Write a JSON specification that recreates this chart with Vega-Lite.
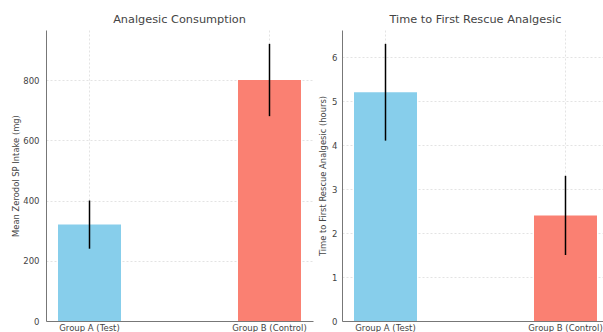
{
  "$schema": "https://vega.github.io/schema/vega-lite/v6.json",
  "background": "white",
  "padding": {"left": 11, "top": 13, "right": 0, "bottom": 0},
  "spacing": 5,
  "config": {
    "view": {"stroke": null},
    "font": "DejaVu Sans",
    "title": {"fontSize": 11.3, "fontWeight": "normal", "color": "#444444", "offset": 5, "font": "DejaVu Sans"},
    "axis": {
      "labelFont": "DejaVu Sans", "titleFont": "DejaVu Sans",
      "labelFontSize": 8.5, "titleFontSize": 8.4, "titleFontWeight": "normal",
      "labelColor": "#444444", "titleColor": "#444444",
      "domainColor": "#777777", "domainWidth": 1,
      "ticks": false, "labelPadding": 5,
      "gridColor": "#d0d0d0", "gridDash": [2, 2], "gridWidth": 0.6
    }
  },
  "datasets": {
    "consumption": [
      {"group": "Group A (Test)", "mean": 320, "lo": 240, "hi": 400},
      {"group": "Group B (Control)", "mean": 800, "lo": 680, "hi": 920}
    ],
    "timing": [
      {"group": "Group A (Test)", "mean": 5.2, "lo": 4.1, "hi": 6.3},
      {"group": "Group B (Control)", "mean": 2.4, "lo": 1.5, "hi": 3.3}
    ]
  },
  "hconcat": [
    {
      "title": "Analgesic Consumption",
      "width": 267, "height": 291,
      "data": {"name": "consumption"},
      "encoding": {
        "x": {"field": "group", "type": "nominal", "sort": null,
              "scale": {"paddingInner": 0.65, "paddingOuter": 0.0667},
              "axis": {"title": null, "labelAngle": 0, "bandPosition": 0.5, "grid": true, "labelPadding": 2}},
        "y": {"type": "quantitative"}
      },
      "layer": [
        {
          "mark": {"type": "bar"},
          "encoding": {
            "y": {"field": "mean", "type": "quantitative",
                  "scale": {"domain": [0, 966], "nice": false, "zero": true},
                  "axis": {"title": "Mean Zerodol SP Intake (mg)", "values": [0, 200, 400, 600, 800], "grid": true, "labelPadding": 7, "titlePadding": 2}},
            "color": {"field": "group", "type": "nominal", "sort": null,
                      "scale": {"range": ["#87CEEB", "#FA8072"]}, "legend": null}
          }
        },
        {
          "mark": {"type": "rule", "color": "black", "strokeWidth": 1.5},
          "encoding": {
            "y": {"field": "lo", "type": "quantitative"},
            "y2": {"field": "hi"}
          }
        }
      ]
    },
    {
      "title": "Time to First Rescue Analgesic",
      "width": 267, "height": 291,
      "data": {"name": "timing"},
      "encoding": {
        "x": {"field": "group", "type": "nominal", "sort": null,
              "scale": {"paddingInner": 0.65, "paddingOuter": 0.0667},
              "axis": {"title": null, "labelAngle": 0, "bandPosition": 0.5, "grid": true, "labelPadding": 2}},
        "y": {"type": "quantitative"}
      },
      "layer": [
        {
          "mark": {"type": "bar"},
          "encoding": {
            "y": {"field": "mean", "type": "quantitative",
                  "scale": {"domain": [0, 6.615], "nice": false, "zero": true},
                  "axis": {"title": "Time to First Rescue Analgesic (hours)", "values": [0, 1, 2, 3, 4, 5, 6], "grid": true, "labelPadding": 5, "titlePadding": 4}},
            "color": {"field": "group", "type": "nominal", "sort": null,
                      "scale": {"range": ["#87CEEB", "#FA8072"]}, "legend": null}
          }
        },
        {
          "mark": {"type": "rule", "color": "black", "strokeWidth": 1.5},
          "encoding": {
            "y": {"field": "lo", "type": "quantitative"},
            "y2": {"field": "hi"}
          }
        }
      ]
    }
  ]
}
